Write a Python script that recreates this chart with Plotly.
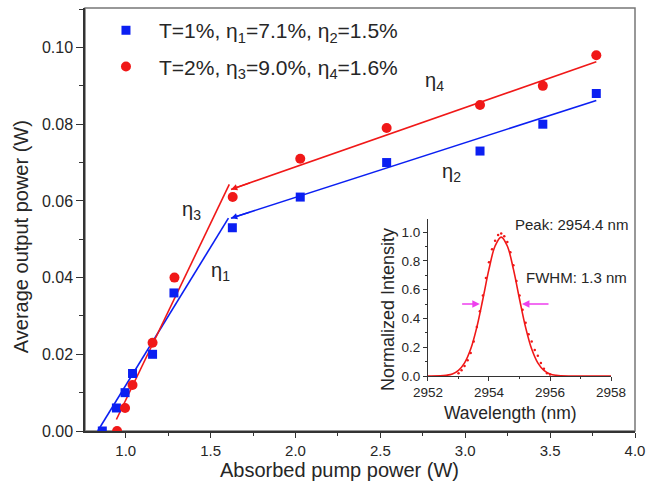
import plotly.graph_objects as go

# Output power vs absorbed pump power, two output couplers
pump_t1 = [0.862, 0.945, 0.996, 1.040, 1.158, 1.284, 1.628, 2.028, 2.537, 3.087, 3.457, 3.772]
power_t1 = [0.000, 0.006, 0.010, 0.015, 0.020, 0.036, 0.053, 0.061, 0.070, 0.073, 0.080, 0.088]
pump_t2 = [0.949, 0.996, 1.040, 1.158, 1.287, 1.630, 2.028, 2.537, 3.087, 3.457, 3.772]
power_t2 = [0.000, 0.006, 0.012, 0.023, 0.040, 0.061, 0.071, 0.079, 0.085, 0.090, 0.098]

# Linear fit segments (below / above the kink)
fit1_x = [0.835, 1.605]
fit1_y = [0.000, 0.0555]
fit2_x = [1.620, 3.772]
fit2_y = [0.0555, 0.0862]
fit3_x = [0.945, 1.610]
fit3_y = [0.0030, 0.0643]
fit4_x = [1.620, 3.772]
fit4_y = [0.0630, 0.0963]

# Inset: laser spectrum
wl_meas = [2953.0, 2953.1, 2953.2, 2953.3, 2953.4, 2953.5, 2953.6, 2953.7, 2953.8, 2953.9,
           2954.0, 2954.1, 2954.2, 2954.3, 2954.4, 2954.5, 2954.6, 2954.7, 2954.8, 2954.9,
           2955.0, 2955.1, 2955.2, 2955.3, 2955.4, 2955.5, 2955.6, 2955.7, 2955.8, 2955.9, 2956.0]
int_meas = [0.02, 0.04, 0.07, 0.11, 0.16, 0.24, 0.34, 0.45, 0.56, 0.68,
            0.79, 0.88, 0.94, 0.98, 0.99, 0.97, 0.93, 0.86, 0.77, 0.66,
            0.56, 0.46, 0.37, 0.29, 0.24, 0.18, 0.14, 0.09, 0.05, 0.02, 0.01]
wl_fit = [2952.0, 2952.4, 2952.6, 2952.8, 2953.0, 2953.2, 2953.4, 2953.6, 2953.8, 2954.0,
          2954.2, 2954.4, 2954.6, 2954.8, 2955.0, 2955.2, 2955.4, 2955.6, 2955.8, 2956.0,
          2956.2, 2956.6, 2958.0]
int_fit = [0.000, 0.001, 0.005, 0.014, 0.039, 0.091, 0.187, 0.338, 0.535, 0.742,
           0.903, 0.965, 0.903, 0.742, 0.535, 0.338, 0.187, 0.091, 0.039, 0.014,
           0.005, 0.000, 0.000]
fwhm_left = [2953.07, 2953.70]
fwhm_right = [2956.00, 2955.08]
fwhm_level = 0.5

legend_t1 = "T=1%, η<sub>1</sub>=7.1%, η<sub>2</sub>=1.5%"
legend_t2 = "T=2%, η<sub>3</sub>=9.0%, η<sub>4</sub>=1.6%"

BLUE = "#0b1ff2"
RED = "#f01818"
MAG = "#ee3fee"
TXT = "#262626"
FONT = "Liberation Sans, Arial, sans-serif"

fig = go.Figure()

for fx, fy, col in [(fit1_x, fit1_y, BLUE), (fit2_x, fit2_y, BLUE),
                    (fit3_x, fit3_y, RED), (fit4_x, fit4_y, RED)]:
    fig.add_trace(go.Scatter(x=fx, y=fy, mode="lines", line=dict(color=col, width=1.6),
                             showlegend=False, hoverinfo="skip"))

fig.add_trace(go.Scatter(x=pump_t1, y=power_t1, mode="markers", name=legend_t1,
                         legendgroup="a",
                         marker=dict(symbol="square", size=9, color=BLUE)))
fig.add_trace(go.Scatter(x=pump_t2, y=power_t2, mode="markers", name=legend_t2,
                         legendgroup="b",
                         marker=dict(symbol="circle", size=10, color=RED)))

# inset spectrum
fig.add_trace(go.Scatter(x=wl_fit, y=int_fit, mode="lines", xaxis="x2", yaxis="y2",
                         line=dict(color=RED, width=1.6, shape="spline"),
                         showlegend=False))
fig.add_trace(go.Scatter(x=wl_meas, y=int_meas, mode="markers", xaxis="x2", yaxis="y2",
                         marker=dict(color=RED, size=2.5), showlegend=False))

annotations = []
# arrowheads at the start of the upper fit segments
for fx, fy, col in [(fit2_x, fit2_y, BLUE), (fit4_x, fit4_y, RED)]:
    annotations.append(dict(x=fx[0], y=fy[0], ax=fx[0] + 0.12,
                            ay=fy[0] + (fy[1] - fy[0]) * 0.12 / (fx[1] - fx[0]),
                            xref="x", yref="y", axref="x", ayref="y", text="",
                            showarrow=True, arrowhead=2, arrowsize=0.9, arrowwidth=1.4,
                            arrowcolor=col))

# FWHM arrows
for pair in (fwhm_left, fwhm_right):
    annotations.append(dict(x=pair[1], y=fwhm_level, ax=pair[0], ay=fwhm_level,
                            xref="x2", yref="y2", axref="x2", ayref="y2", text="",
                            showarrow=True, arrowhead=2, arrowsize=1.0, arrowwidth=1.5,
                            arrowcolor=MAG))

def eta(label, x, y, xref="x", yref="y"):
    annotations.append(dict(x=x, y=y, xref=xref, yref=yref, showarrow=False,
                            text=label, font=dict(size=20, color=TXT, family=FONT)))

eta("η<sub>3</sub>", 1.39, 0.0575)
eta("η<sub>1</sub>", 1.56, 0.0415)
eta("η<sub>2</sub>", 2.92, 0.0675)
eta("η<sub>4</sub>", 2.82, 0.0912)

annotations.append(dict(x=2956.72, y=1.05, xref="x2", yref="y2", showarrow=False,
                        text="Peak: 2954.4 nm", font=dict(size=15, color=TXT, family=FONT)))
annotations.append(dict(x=2956.86, y=0.683, xref="x2", yref="y2", showarrow=False,
                        text="FWHM: 1.3 nm", font=dict(size=15, color=TXT, family=FONT)))

# axis titles
annotations.append(dict(x=0.462, y=-0.092, xref="paper", yref="paper", showarrow=False,
                        xanchor="center", yanchor="middle",
                        text="Absorbed pump power (W)",
                        font=dict(size=20, color=TXT, family=FONT)))
annotations.append(dict(x=-0.115, y=0.46, xref="paper", yref="paper", showarrow=False,
                        xanchor="center", yanchor="middle", textangle=-90,
                        text="Average output power (W)",
                        font=dict(size=20, color=TXT, family=FONT)))
annotations.append(dict(x=0.7745, y=0.043, xref="paper", yref="paper", showarrow=False,
                        xanchor="center", yanchor="middle",
                        text="Wavelength (nm)",
                        font=dict(size=17.5, color=TXT, family=FONT)))
annotations.append(dict(x=0.551, y=0.286, xref="paper", yref="paper", showarrow=False,
                        xanchor="center", yanchor="middle", textangle=-90,
                        text="Normalized Intensity",
                        font=dict(size=18, color=TXT, family=FONT)))

fig.update_layout(
    width=647, height=481,
    margin=dict(l=85, r=12, t=8, b=50, autoexpand=False),
    paper_bgcolor="white", plot_bgcolor="white",
    font=dict(family=FONT, color=TXT, size=16),
    showlegend=True,
    legend=dict(x=0.0145, y=0.995, xanchor="left", yanchor="top",
                bgcolor="rgba(0,0,0,0)", font=dict(size=21, color=TXT, family=FONT),
                tracegroupgap=6, itemwidth=56),
    xaxis=dict(range=[0.76, 4.0], dtick=0.5, tick0=0, tickformat=".1f",
               showgrid=False, zeroline=False, showline=True, linecolor="#333", linewidth=1.5,
               ticks="outside", ticklen=5, tickwidth=1.3, tickcolor="#333",
               tickfont=dict(size=15),
               minor=dict(dtick=0.25, ticks="outside", ticklen=3, tickcolor="#333", showgrid=False)),
    yaxis=dict(range=[0, 0.1103], dtick=0.02, tick0=0, tickformat=".2f",
               showgrid=False, zeroline=False, showline=True, linecolor="#333", linewidth=1.5,
               ticks="outside", ticklen=7, tickwidth=1.3, tickcolor="#333",
               tickfont=dict(size=16),
               minor=dict(dtick=0.01, ticks="outside", ticklen=4, tickcolor="#333", showgrid=False)),
    xaxis2=dict(domain=[0.6236, 0.9564], anchor="y2", range=[2952, 2958], dtick=2,
                showgrid=False, zeroline=False, showline=True, linecolor="#333", linewidth=1.2,
                ticks="outside", ticklen=4, tickcolor="#333", tickfont=dict(size=13.5),
                minor=dict(dtick=1, ticks="outside", ticklen=2, tickcolor="#333", showgrid=False)),
    yaxis2=dict(domain=[0.130, 0.501], anchor="x2", range=[0, 1.09], dtick=0.2,
                tickformat=".1f",
                showgrid=False, zeroline=False, showline=True, linecolor="#333", linewidth=1.2,
                ticks="outside", ticklen=4, tickcolor="#333", tickfont=dict(size=13.5),
                minor=dict(dtick=0.1, ticks="outside", ticklen=2, tickcolor="#333", showgrid=False)),
    shapes=[dict(type="rect", xref="paper", yref="paper", x0=0, x1=1, y0=0, y1=1,
                 line=dict(color="#777", width=1.5), layer="below")],
    annotations=annotations,
)

fig.write_html("out.html")
